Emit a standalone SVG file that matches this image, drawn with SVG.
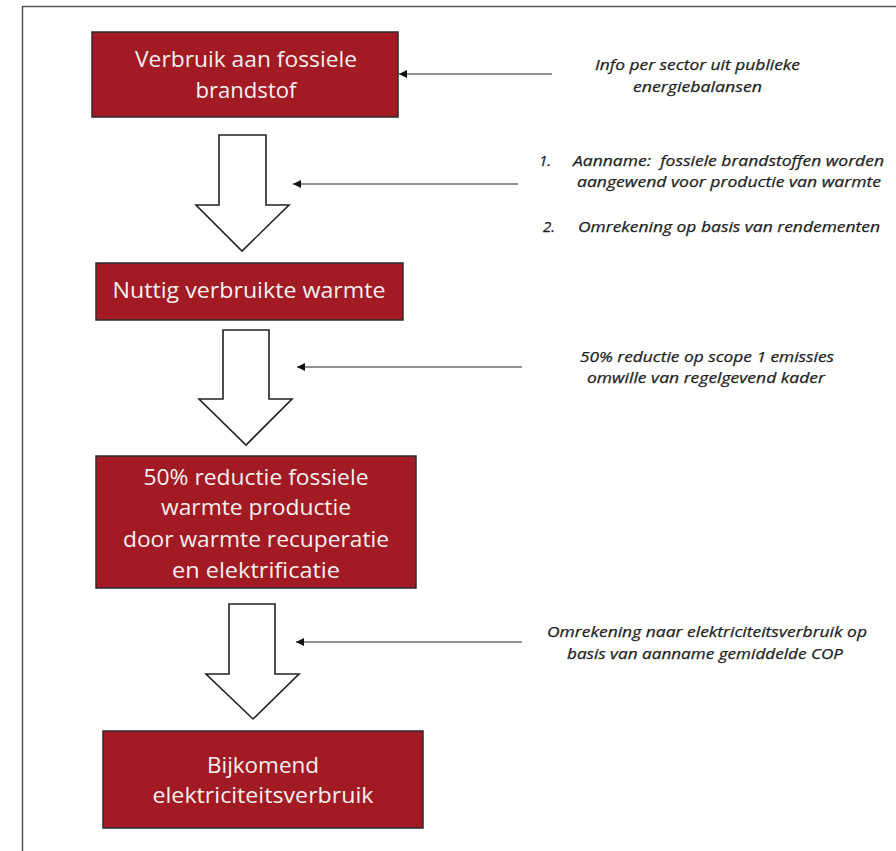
<svg xmlns="http://www.w3.org/2000/svg" width="896" height="851" viewBox="0 0 896 851">
<defs>
<style>
.box{fill:#A11A24;stroke:#2b2b2b;stroke-width:1.5}
.bt{font-family:"Open Sans","Liberation Sans",sans-serif;font-size:21.5px;fill:#f7f0f0;text-anchor:middle}
.note{font-family:"Open Sans","Liberation Sans",sans-serif;font-style:italic;font-size:15px;fill:#1e1e1e;stroke:#1e1e1e;stroke-width:0.25}
.blk{fill:#fff;stroke:#222;stroke-width:1.6;stroke-linejoin:miter}
.con{stroke:#6e6e6e;stroke-width:1.6;fill:none}
</style>
<marker id="ah" viewBox="0 0 10 10" refX="10" refY="5" markerWidth="9" markerHeight="8" markerUnits="userSpaceOnUse" orient="auto">
<path d="M0,0 L10,5 L0,10 Z" fill="#111"/>
</marker>
</defs>
<rect width="896" height="851" fill="#fff"/>
<path d="M22.5,851 V6.5 H896" fill="none" stroke="#555" stroke-width="1.5"/>

<g id="node-verbruik">
<rect class="box" x="92" y="32" width="306" height="85"/>
<text class="bt" x="246" y="67" textLength="222" lengthAdjust="spacingAndGlyphs">Verbruik aan fossiele</text>
<text class="bt" x="246" y="98" textLength="101" lengthAdjust="spacingAndGlyphs">brandstof</text>
</g>
<g id="node-nuttig">
<rect class="box" x="96" y="263" width="307" height="57"/>
<text class="bt" x="249" y="298" textLength="273" lengthAdjust="spacingAndGlyphs">Nuttig verbruikte warmte</text>
</g>
<g id="node-reductie">
<rect class="box" x="96" y="456" width="320" height="132"/>
<text class="bt" x="256" y="485" textLength="225" lengthAdjust="spacingAndGlyphs">50% reductie fossiele</text>
<text class="bt" x="256" y="515" textLength="190" lengthAdjust="spacingAndGlyphs">warmte productie</text>
<text class="bt" x="256" y="547" textLength="266" lengthAdjust="spacingAndGlyphs">door warmte recuperatie</text>
<text class="bt" x="256" y="578" textLength="168" lengthAdjust="spacingAndGlyphs">en elektrificatie</text>
</g>
<g id="node-bijkomend">
<rect class="box" x="103" y="731" width="320" height="97"/>
<text class="bt" x="263" y="773" textLength="112" lengthAdjust="spacingAndGlyphs">Bijkomend</text>
<text class="bt" x="263" y="803" textLength="221" lengthAdjust="spacingAndGlyphs">elektriciteitsverbruik</text>
</g>

<g id="flow-arrows">
<path class="blk" d="M219,135 H266 V205 H289 L242,251 L196,205 H219 Z"/>
<path class="blk" d="M223,330 H269 V399 H292 L246,445 L199,399 H223 Z"/>
<path class="blk" d="M229,604 H275 V674 H299 L253,719 L206,674 H229 Z"/>
</g>

<g id="connectors">
<line class="con" x1="552" y1="74" x2="399" y2="74" marker-end="url(#ah)"/>
<line class="con" x1="518" y1="184" x2="293" y2="184" marker-end="url(#ah)"/>
<line class="con" x1="522" y1="367" x2="297" y2="367" marker-end="url(#ah)"/>
<line class="con" x1="522" y1="642" x2="296" y2="642" marker-end="url(#ah)"/>
</g>

<g id="note-info">
<text class="note" x="595" y="70" textLength="205" lengthAdjust="spacingAndGlyphs">Info per sector uit publieke</text>
<text class="note" x="633" y="92" textLength="129" lengthAdjust="spacingAndGlyphs">energiebalansen</text>
</g>
<g id="note-aanname">
<text class="note" x="539" y="166">1.</text>
<text class="note" x="573" y="166" textLength="311" lengthAdjust="spacingAndGlyphs">Aanname:&#160; fossiele brandstoffen worden</text>
<text class="note" x="577" y="187" textLength="304" lengthAdjust="spacingAndGlyphs">aangewend voor productie van warmte</text>
<text class="note" x="543" y="232">2.</text>
<text class="note" x="578" y="232" textLength="302" lengthAdjust="spacingAndGlyphs">Omrekening op basis van rendementen</text>
</g>
<g id="note-reductie">
<text class="note" x="580" y="362" textLength="254" lengthAdjust="spacingAndGlyphs">50% reductie op scope 1 emissies</text>
<text class="note" x="587" y="383" textLength="238" lengthAdjust="spacingAndGlyphs">omwille van regelgevend kader</text>
</g>
<g id="note-omrekening">
<text class="note" x="547" y="637" textLength="320" lengthAdjust="spacingAndGlyphs">Omrekening naar elektriciteitsverbruik op</text>
<text class="note" x="567" y="659" textLength="276" lengthAdjust="spacingAndGlyphs">basis van aanname gemiddelde COP</text>
</g>
</svg>
